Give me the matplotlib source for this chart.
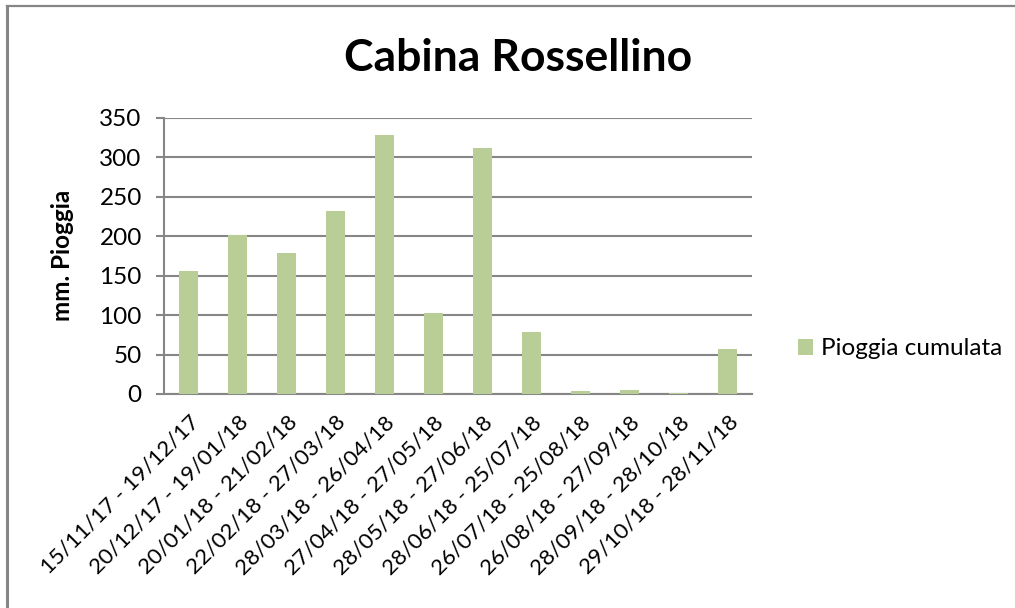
import numpy as np
import matplotlib.pyplot as plt
from matplotlib.lines import Line2D

# Data
periodi = ["15/11/17 - 19/12/17", "20/12/17 - 19/01/18", "20/01/18 - 21/02/18",
           "22/02/18 - 27/03/18", "28/03/18 - 26/04/18", "27/04/18 - 27/05/18",
           "28/05/18 - 27/06/18", "28/06/18 - 25/07/18", "26/07/18 - 25/08/18",
           "26/08/18 - 27/09/18", "28/09/18 - 28/10/18", "29/10/18 - 28/11/18"]
pioggia = [156, 202, 179, 232, 328, 102, 312, 79, 4, 5.5, 1.6, 57]
y_ticks = [0, 50, 100, 150, 200, 250, 300, 350]

plt.rcParams['font.family'] = ['Lato', 'DejaVu Sans']
grey = '#868686'
green = '#b9cd96'

fig = plt.figure(figsize=(10.15, 6.08), dpi=100)
ax = fig.add_axes([0.1616, 0.352, 0.5795, 0.4544])

x = np.arange(len(periodi))
ax.bar(x, pioggia, width=0.39, color=green, label='Pioggia cumulata', zorder=3)

ax.set_xlim(-0.5, len(periodi) - 0.5)
ax.set_ylim(0, 350)
ax.set_yticks(y_ticks)
ax.set_yticklabels([str(v) for v in y_ticks], fontsize=17.5)
ax.yaxis.grid(True, color=grey, linewidth=1.5, zorder=0)
ax.tick_params(axis='y', length=6, width=1.5, color=grey, pad=10)
ax.tick_params(axis='x', length=0, pad=13)
ax.set_xticks(x)
ax.set_xticklabels(periodi, rotation=45, ha='right', rotation_mode='anchor',
                   fontsize=16)

for side in ['top', 'right']:
    ax.spines[side].set_visible(False)
for side in ['left', 'bottom']:
    ax.spines[side].set_color(grey)
    ax.spines[side].set_linewidth(1.5)

ax.set_ylabel('mm. Pioggia', fontsize=17.5, fontweight='bold', labelpad=18)
fig.text(0.51, 0.905, 'Cabina Rossellino', fontsize=32, fontweight='bold',
         ha='center', va='center')

fig.legend(loc='center left', bbox_to_anchor=(0.765, 0.426), frameon=False,
           fontsize=17.5, handlelength=0.6, handleheight=0.6, handletextpad=0.35)

# outer chart frame (only top and left edges visible in the crop)
fig.add_artist(Line2D([0.0065, 0.0065], [0, 0.99], color=grey, linewidth=2.2,
                      transform=fig.transFigure))
fig.add_artist(Line2D([0.0065, 1.0], [0.9895, 0.9895], color=grey, linewidth=1.6,
                      transform=fig.transFigure))

fig.savefig('out.png', dpi=100)
